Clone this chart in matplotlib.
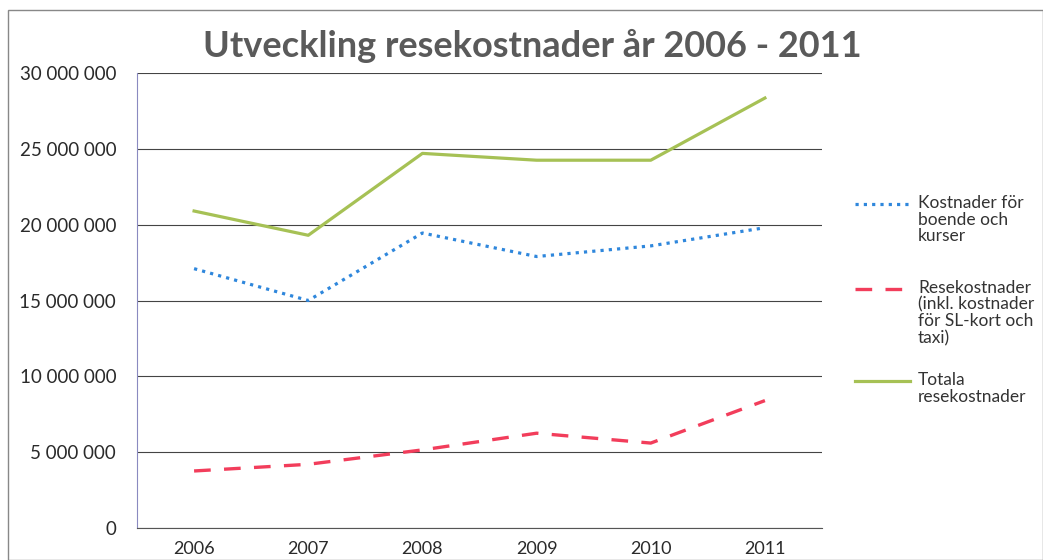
import matplotlib.pyplot as plt
from matplotlib.ticker import FuncFormatter
from matplotlib.patches import Rectangle
from matplotlib.lines import Line2D

# Data
years = ["2006", "2007", "2008", "2009", "2010", "2011"]
boende_kurser = [17.1e6, 15.0e6, 19.45e6, 17.9e6, 18.6e6, 19.8e6]
resekostnader = [3.76e6, 4.2e6, 5.15e6, 6.25e6, 5.6e6, 8.4e6]
totala = [20.9e6, 19.3e6, 24.7e6, 24.25e6, 24.25e6, 28.35e6]

labels = [
    "Kostnader för\nboende och\nkurser",
    "Resekostnader\n(inkl. kostnader\nför SL-kort och\ntaxi)",
    "Totala\nresekostnader",
]

W, H = 1043, 560


# pixel (from top-left) -> figure fraction
def fx(px):
    return px / W


def fy(py):
    return 1 - py / H


plt.rcParams['font.family'] = ['Lato', 'DejaVu Sans']

fig = plt.figure(figsize=(W / 100, H / 100), dpi=100)
ax = fig.add_axes([fx(137), fy(528), fx(822) - fx(137), fy(73) - fy(528)])

styles = [
    dict(color="#2f87dc", linestyle=(0, (1, 1.6)), linewidth=2.3),
    dict(color="#f23d5b", linestyle=(0, (5, 4)), linewidth=2.4),
    dict(color="#a6c155", linestyle="-", linewidth=2.3),
]

x = list(range(len(years)))
for vals, st in zip([boende_kurser, resekostnader, totala], styles):
    ax.plot(x, vals, **st)

ax.set_xlim(-0.5, len(years) - 0.5)
ax.set_ylim(0, 30e6)
ax.set_yticks(range(0, 30000001, 5000000))
ax.yaxis.set_major_formatter(FuncFormatter(lambda v, p: f"{int(v):,}".replace(",", " ")))
ax.set_xticks(x)
ax.set_xticklabels(years)
ax.grid(axis="y", color="#444444", linewidth=0.8)
ax.set_axisbelow(True)
for side in ["top", "right"]:
    ax.spines[side].set_visible(False)
ax.spines["left"].set_color("#8a8ac0")
ax.spines["left"].set_linewidth(0.8)
ax.spines["bottom"].set_color("#555555")
ax.spines["bottom"].set_linewidth(0.8)
ax.tick_params(length=0, labelsize=13.5, colors="#2a2a2a")
ax.tick_params(axis="x", pad=9, labelsize=13)
ax.tick_params(axis="y", pad=15)

fig.text(fx(532), fy(46), "Utveckling resekostnader år 2006 - 2011", ha="center",
         va="center", fontsize=26, fontweight="bold", color="#5a5a5a")

# legend on the right, handle lined up with the first text line
legend_y = [204, 289, 381]
for lab, st, ly in zip(labels, styles, legend_y):
    fig.add_artist(Line2D([fx(855), fx(910)], [fy(ly), fy(ly)],
                          transform=fig.transFigure, **st))
    fig.text(fx(918), fy(ly - 9), lab, ha="left", va="top", fontsize=12.5,
             linespacing=1.05, color="#333333")

# frame around the chart
fig.patches.append(Rectangle((fx(8), 0), 1 - fx(8), fy(10),
                             transform=fig.transFigure, fill=False,
                             edgecolor="#888888", linewidth=1))

fig.savefig("out.png", dpi=100)
